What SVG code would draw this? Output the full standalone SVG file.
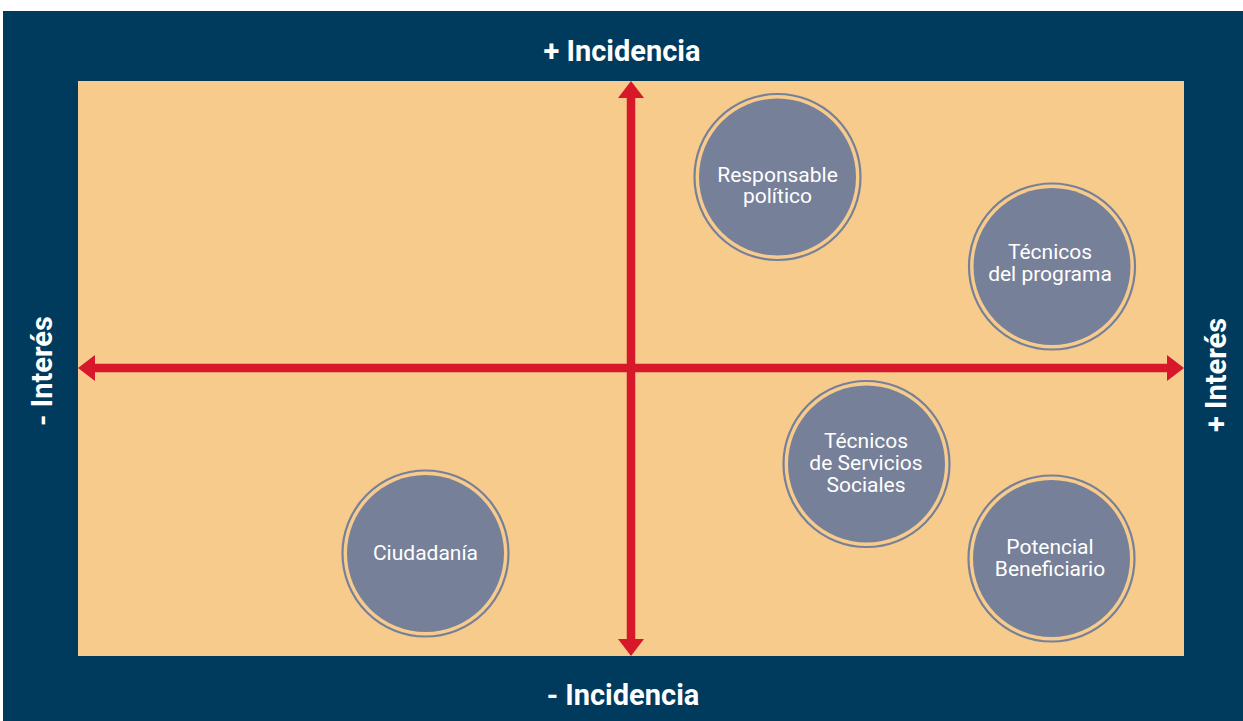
<svg xmlns="http://www.w3.org/2000/svg" width="1243" height="721" viewBox="0 0 1243 721">
<defs>
<style>
.frame{fill:#003a5d}
.field{fill:#f7cb8c}
.axis{stroke:#d7182a;stroke-width:8.5;fill:none}
.head{fill:#d7182a}
.ring{fill:none;stroke:#778099;stroke-width:2.2}
.disk{fill:#778099}
.lbl{font-family:Roboto,"Liberation Sans",sans-serif;font-size:21px;fill:#ffffff;text-anchor:middle}
.ax{font-family:Roboto,"Liberation Sans",sans-serif;font-size:29px;font-weight:bold;fill:#ffffff;text-anchor:middle}
</style>
</defs>
<rect x="0" y="0" width="1243" height="721" fill="#ffffff"/>
<rect class="frame" x="3" y="11" width="1240" height="710"/>
<rect class="field" x="78" y="81" width="1106" height="575"/>
<g id="connectors">
<line class="axis" x1="631" y1="95" x2="631" y2="642"/>
<line class="axis" x1="94" y1="368" x2="1168" y2="368"/>
<polygon class="head" points="631,81 644,98 618,98"/>
<polygon class="head" points="631,656 644,639 618,639"/>
<polygon class="head" points="78,368 95,355 95,381"/>
<polygon class="head" points="1184,368 1167,355 1167,381"/>
</g>
<g id="axis-labels">
<text class="ax" x="622" y="61">+ Incidencia</text>
<text class="ax" x="623" y="705">- Incidencia</text>
<text class="ax" transform="translate(52,371) rotate(-90)">- Interés</text>
<text class="ax" transform="translate(1226,375) rotate(-90)">+ Interés</text>
</g>
<g id="node-responsable">
<circle class="ring" cx="777.5" cy="177" r="83"/>
<circle class="disk" cx="777.5" cy="177" r="78.5"/>
<text class="lbl" x="777.5" y="182">Responsable</text>
<text class="lbl" x="777.5" y="203">político</text>
</g>
<g id="node-tecnicos-programa">
<circle class="ring" cx="1052" cy="266.5" r="83"/>
<circle class="disk" cx="1052" cy="266.5" r="78.5"/>
<text class="lbl" x="1050" y="259">Técnicos</text>
<text class="lbl" x="1050" y="281">del programa</text>
</g>
<g id="node-tecnicos-servicios">
<circle class="ring" cx="866.5" cy="464" r="83"/>
<circle class="disk" cx="866.5" cy="464" r="78.5"/>
<text class="lbl" x="866" y="448">Técnicos</text>
<text class="lbl" x="866" y="470">de Servicios</text>
<text class="lbl" x="866" y="492">Sociales</text>
</g>
<g id="node-potencial">
<circle class="ring" cx="1051.5" cy="558.5" r="83"/>
<circle class="disk" cx="1051.5" cy="558.5" r="78.5"/>
<text class="lbl" x="1050" y="554">Potencial</text>
<text class="lbl" x="1050" y="576">Beneficiario</text>
</g>
<g id="node-ciudadania">
<circle class="ring" cx="425.5" cy="553.5" r="83"/>
<circle class="disk" cx="425.5" cy="553.5" r="78.5"/>
<text class="lbl" x="425.5" y="560">Ciudadanía</text>
</g>
</svg>
